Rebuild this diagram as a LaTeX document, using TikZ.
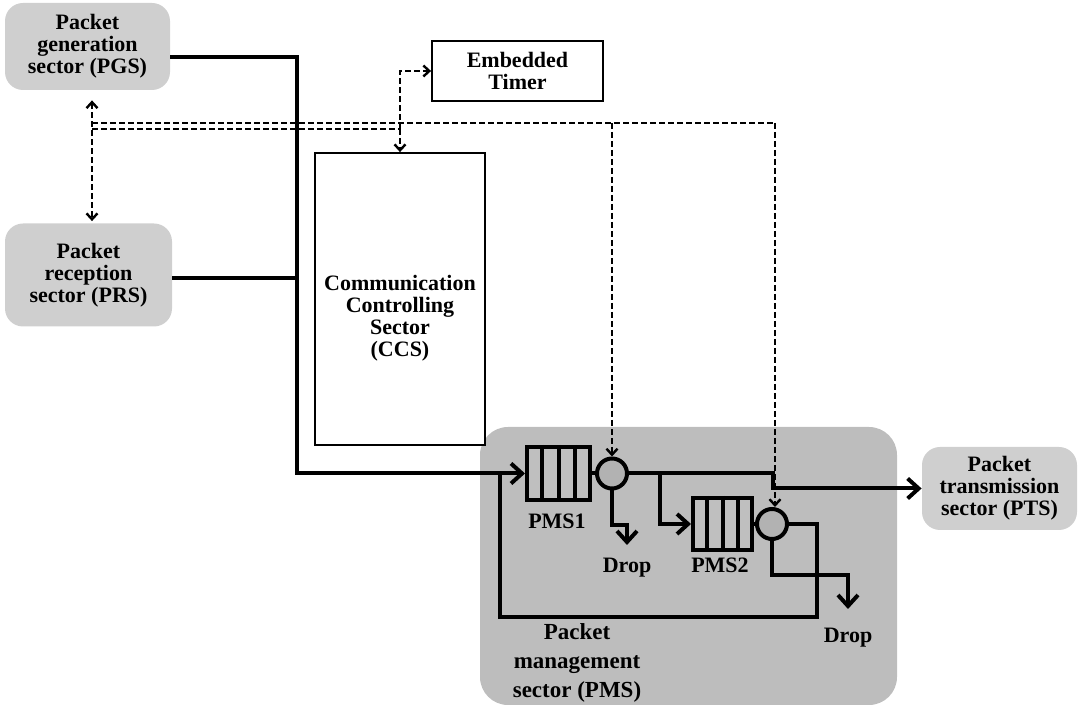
\documentclass[tikz,border=0pt]{standalone}
\usepackage{fontspec}
\setmainfont{Liberation Serif}
\usetikzlibrary{arrows.meta,calc}
\begin{document}
\begin{tikzpicture}[x=0.5pt,y=-0.5pt,
  shadebox/.style={fill=gray!38, draw=none, rounded corners=9pt, inner sep=0pt,
     font=\bfseries\fontsize{11}{11}\selectfont, align=center},
  plainbox/.style={draw=black, line width=0.9pt, fill=white, inner sep=0pt,
     font=\bfseries\fontsize{11}{11}\selectfont, align=center},
  lbl/.style={font=\bfseries\fontsize{11}{11}\selectfont, align=center, inner sep=0pt},
  queue/.style={draw=black, line width=2pt, fill=gray!50, inner sep=0pt},
  server/.style={circle, draw=black, line width=2pt, fill=gray!60, inner sep=0pt, minimum size=15pt},
  thk/.style={line width=2pt},
  dsh/.style={line width=1.2pt, dash pattern=on 3pt off 1.5pt},
  barrow/.style={-{Straight Barb[length=5.5pt,width=10pt]}},
  sarrow/.style={-{Straight Barb[length=3pt,width=5.5pt]}},
  sarrows/.style={{Straight Barb[length=3pt,width=5.5pt]}-{Straight Barb[length=3pt,width=5.5pt]}}
]
\path[use as bounding box] (0,0) rectangle (1078,710);

% shaded sector boxes
\node[shadebox, fill=gray!52, minimum width=208.5pt, minimum height=139pt, rounded corners=14pt] (pms) at (688.5,566) {};
\node[shadebox, minimum width=82.5pt, minimum height=43.5pt] (pgs) at (87.5,46.5) {Packet\\generation\\sector (PGS)};
\node[shadebox, minimum width=83.5pt, minimum height=51.5pt] (prs) at (88.5,275) {Packet\\reception\\sector (PRS)};
\node[shadebox, minimum width=77.5pt, minimum height=41.5pt] (pts) at (999.5,488.5) {Packet\\transmission\\sector (PTS)};

% plain boxes
\node[plainbox, minimum width=85.5pt, minimum height=30pt] (timer) at (517.5,71) {Embedded\\Timer};
\node[plainbox, minimum width=85pt, minimum height=146pt] (ccs) at (400,299) {};
\node[lbl] (ccstext) at (400,318) {Communication\\Controlling\\Sector\\(CCS)};

% queues and servers
\node[queue, minimum width=31.5pt, minimum height=26.5pt] (q1) at (558.5,473.5) {};
\node[queue, minimum width=29.5pt, minimum height=26pt] (q2) at (722.5,524) {};
\foreach \q in {q1,q2}{
  \foreach \f in {0.25,0.5,0.75}{
    \draw[line width=2pt] ($(\q.north west)!\f!(\q.north east)$) -- ($(\q.south west)!\f!(\q.south east)$);
  }
}
\node[server] (s1) at (612,473.5) {};
\node[server] (s2) at (772,524) {};

% labels
\node[lbl] (l1) at (557,521) {PMS1};
\node[lbl] (l2) at (720,565) {PMS2};
\node[lbl] (drop1) at (627,568) {Drop};
\node[lbl] (drop2) at (848,638) {Drop};
\node[lbl, font=\bfseries\fontsize{11.5}{14.5}\selectfont] (pmslbl) at (577,663) {Packet\\management\\sector (PMS)};

% coordinates
\coordinate (c1) at (297,473.5);
\coordinate (c2) at (773,473.5);
\coordinate (b1) at (660,473.5);
\coordinate (fbA) at (817,524);
\coordinate (fbB) at (817,617);
\coordinate (fbC) at (500,617);
\coordinate (fbD) at (500,473.5);
\coordinate (d1a) at (627,525);
\coordinate (d1b) at (627,545);
\coordinate (d2a) at (848,575);
\coordinate (d2b) at (848,609);
\coordinate (dA) at (92,123);
\coordinate (dB) at (92,129);
\coordinate (dC) at (400,129);
\coordinate (dE) at (612,123);
\coordinate (dF) at (775,123);

% thick data flow
\draw[thk, barrow] ([yshift=-5.25pt]pgs.east) -| (c1) -- (q1.west);
\draw[thk] ([yshift=-1.5pt]prs.east) -- ([yshift=-1.5pt]prs.east -| c1);
\draw[thk] (q1.east) -- (s1.west);
\draw[thk] (q2.east) -- (s2.west);
\draw[thk, barrow] (s1.east) -- (c2) |- (pts.west);
\draw[thk, barrow] (b1) |- (q2.west);
\draw[thk, barrow] (s1.south) |- (d1a) -- (d1b);
\draw[thk, barrow] (s2.south) |- (d2a) -- (d2b);
\draw[thk] (s2.east) -- (fbA) -- (fbB) -- (fbC) -- (fbD);

% dashed control lines
\draw[dsh, sarrows] ([xshift=2.25pt,yshift=-5pt]pgs.south) -- ([xshift=1.75pt,yshift=1pt]prs.north);
\draw[dsh] (dA) -- (dF);
\draw[dsh] (dB) -- (dC);
\draw[dsh, sarrow] (dC) |- (timer.west);
\draw[dsh, sarrow] (dC) -- (dC |- ccs.north);
\draw[dsh, sarrow] (dE) -- (dE |- s1.north);
\draw[dsh, sarrow] (dF) -- (dF |- s2.north);
\end{tikzpicture}
\end{document}
